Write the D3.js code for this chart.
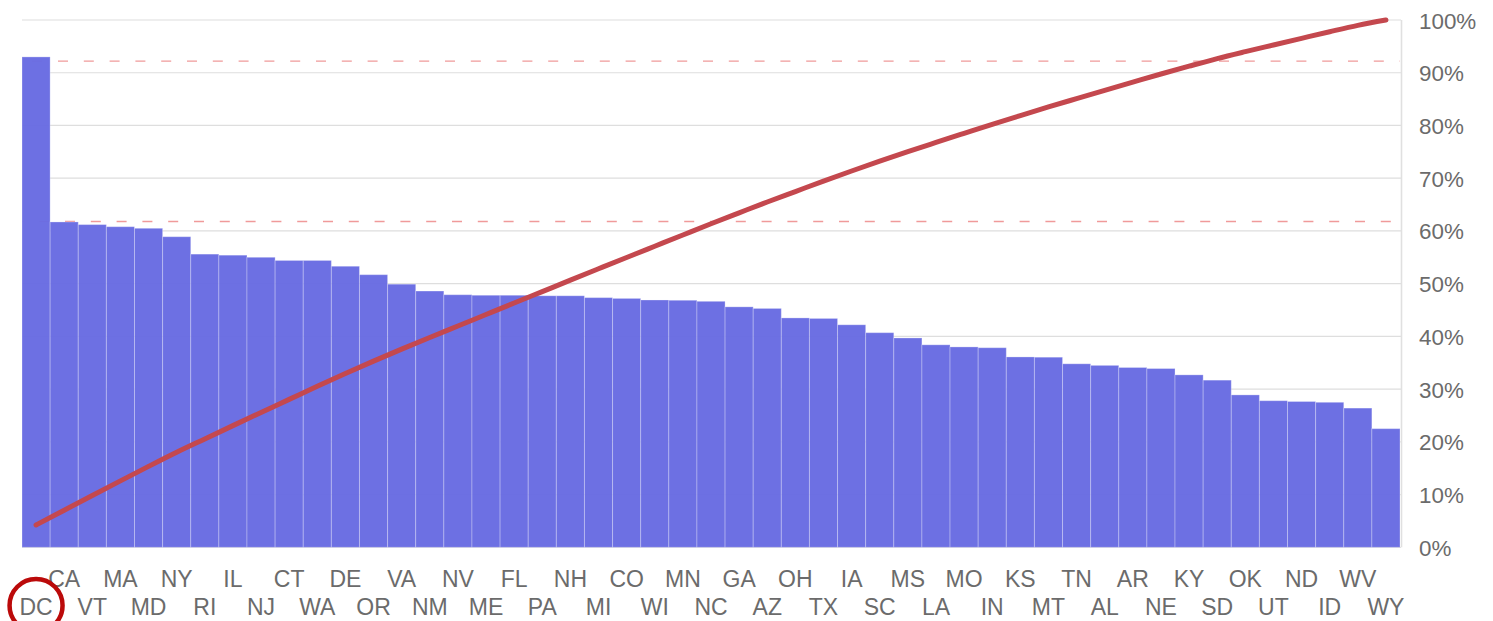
<!DOCTYPE html>
<html>
<head>
<meta charset="utf-8">
<script src="https://cdn.jsdelivr.net/npm/d3@7"></script>
<style>
  html, body { margin: 0; padding: 0; background: #fff; }
  svg { display: block; font-family: "Liberation Sans", Arial, sans-serif; }
</style>
</head>
<body>
<div id="chart"></div>
<script>
// categories, sorted as in the picture
var states = ["DC", "CA", "VT", "MA", "MD", "NY", "RI", "IL", "NJ", "CT", "WA", "DE", "OR", "VA", "NM", "NV", "ME",
  "FL", "PA", "NH", "MI", "CO", "WI", "MN", "NC", "GA", "AZ", "OH", "TX", "IA", "SC", "MS", "LA", "MO", "IN",
  "KS", "MT", "TN", "AL", "AR", "NE", "KY", "SD", "OK", "UT", "ND", "ID", "WV", "WY"];

// bar values (percent)
var values = [93.0, 61.7, 61.2, 60.8, 60.5, 58.9, 55.6, 55.4, 55.0, 54.4, 54.4, 53.3, 51.7, 49.9, 48.6, 47.9, 47.8,
  47.8, 47.7, 47.7, 47.35, 47.2, 46.9, 46.85, 46.65, 45.6, 45.3, 43.5, 43.4, 42.2, 40.7, 39.7, 38.4, 38.0, 37.85,
  36.1, 36.05, 34.8, 34.5, 34.1, 33.9, 32.7, 31.7, 28.9, 27.8, 27.65, 27.5, 26.4, 22.5];

// right axis ticks (fraction)
var yTicks = [0, 0.1, 0.2, 0.3, 0.4, 0.5, 0.6, 0.7, 0.8, 0.9, 1];

// dashed reference lines (percent)
var refLines = [92.2, 61.8];

// circled category
var highlighted = "DC";

/* LAYOUT */
var W = 1493, H = 621;
var plot = { left: 22, right: 1400, top: 20, bottom: 547.3 };

var svg = d3.select("#chart").append("svg")
  .attr("width", W)
  .attr("height", H);

/* SCALES */
var x = d3.scaleBand()
  .domain(states)
  .range([plot.left, plot.right])
  .padding(0);
var y = d3.scaleLinear()
  .domain([0, 1])
  .range([plot.bottom, plot.top]);

// cumulative share for the pareto line
var total = d3.sum(values);
var cumul = Array.from(d3.cumsum(values), (v) => v / total);

/* GRID */
svg.append("g")
  .attr("class", "grid")
  .selectAll("line")
  .data(yTicks)
  .join("line")
  .attr("x1", plot.left)
  .attr("x2", plot.right + 1)
  .attr("y1", (d) => y(d))
  .attr("y2", (d) => y(d))
  .attr("stroke", "#dedede")
  .attr("stroke-width", 1.2);

svg.append("line")
  .attr("x1", plot.right + 1.5)
  .attr("x2", plot.right + 1.5)
  .attr("y1", y(1))
  .attr("y2", y(0))
  .attr("stroke", "#e0e0e0")
  .attr("stroke-width", 1.6);

/* REFERENCE LINES */
var dashOffsets = [15.6, 8.6];
svg.append("g")
  .attr("class", "refs")
  .selectAll("line")
  .data(refLines)
  .join("line")
  .attr("x1", plot.left)
  .attr("x2", plot.right)
  .attr("y1", (d) => y(d / 100))
  .attr("y2", (d) => y(d / 100))
  .attr("stroke", "#f09a9a")
  .attr("stroke-width", 1.4)
  .attr("stroke-dasharray", "10,15.8")
  .attr("stroke-dashoffset", (d, i) => dashOffsets[i]);

/* BARS */
svg.append("g")
  .attr("class", "bars")
  .selectAll("rect")
  .data(values)
  .join("rect")
  .attr("x", (d, i) => x(states[i]))
  .attr("y", (d) => y(d / 100))
  .attr("width", x.bandwidth())
  .attr("height", (d) => y(0) - y(d / 100))
  .attr("fill", "#686be2")
  .attr("fill-opacity", 0.97)
  .attr("stroke", "#ffffff")
  .attr("stroke-opacity", 0.28)
  .attr("stroke-width", 1);

/* PARETO LINE */
var line = d3.line()
  .x((d, i) => x(states[i]) + x.bandwidth() / 2)
  .y((d) => y(d))
  .curve(d3.curveMonotoneX);

svg.append("path")
  .datum(cumul)
  .attr("d", line)
  .attr("fill", "none")
  .attr("stroke", "#c4484e")
  .attr("stroke-width", 5)
  .attr("stroke-linecap", "round")
  .attr("stroke-linejoin", "round");

/* AXES */
var yAxis = svg.append("g")
  .attr("class", "y_axis")
  .attr("transform", `translate(${plot.right + 1}, 0)`)
  .call(d3.axisRight(y).tickValues(yTicks).tickFormat(d3.format(".0%")).tickSize(0).tickPadding(18));
yAxis.select(".domain").remove();
yAxis.selectAll("text")
  .attr("fill", "#6b6b6b")
  .style("font-size", "22.4px")
  .attr("dy", "0.36em");

var xAxis = svg.append("g")
  .attr("class", "x_axis")
  .attr("transform", `translate(0, ${plot.bottom})`)
  .call(d3.axisBottom(x).tickSize(0));
xAxis.select(".domain").remove();
xAxis.selectAll("text")
  .attr("fill", "#6b6b6b")
  .style("font-size", "23px")
  .attr("dy", 0)
  .attr("y", (d, i) => (i % 2 == 0 ? 615 : 587.3) - plot.bottom);

/* HIGHLIGHT CIRCLE */
svg.append("circle")
  .attr("cx", x(highlighted) + x.bandwidth() / 2)
  .attr("cy", 605.5)
  .attr("r", 26.5)
  .attr("fill", "none")
  .attr("stroke", "#bb0a0a")
  .attr("stroke-width", 4.5);
</script>
</body>
</html>
